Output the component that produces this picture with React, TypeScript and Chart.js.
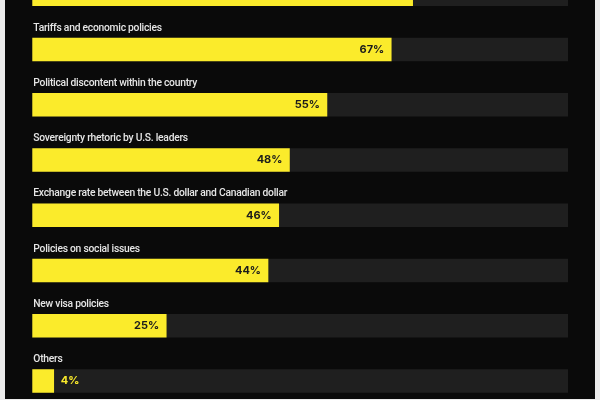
import React, { useEffect, useRef } from "react";
import { Chart, registerables } from "chart.js";

Chart.register(...registerables);

const categories = [
  "Annexation threats by U.S. leaders",
  "Tariffs and economic policies",
  "Political discontent within the country",
  "Sovereignty rhetoric by U.S. leaders",
  "Exchange rate between the U.S. dollar and Canadian dollar",
  "Policies on social issues",
  "New visa policies",
  "Others",
];
const values = [71, 67, 55, 48, 46, 44, 25, 4];
const trackValues = [100, 100, 100, 100, 100, 100, 100, 100];

const YELLOW = "#fbeb2b";
const TRACK = "#1f1f1f";
const PANEL = "#0a0a0a";

const labelPlugin = {
  id: "barLabels",
  afterDatasetsDraw(chart: any) {
    const ctx = chart.ctx;
    const meta = chart.getDatasetMeta(0);
    ctx.save();
    meta.data.forEach((bar: any, i: number) => {
      const top = bar.y - bar.height / 2;
      ctx.font = "500 10.3px 'Roboto', sans-serif";
      (ctx as any).letterSpacing = "-0.25px";
      ctx.fillStyle = "#e6e6e6";
      ctx.textAlign = "left";
      ctx.textBaseline = "middle";
      ctx.fillText(categories[i], chart.chartArea.left + 1, top - 10);
      (ctx as any).letterSpacing = "0px";
      const v = values[i];
      ctx.font = "bold 11px 'Inter', 'Roboto', sans-serif";
      if (v >= 10) {
        ctx.fillStyle = "#1c1c1c";
        ctx.textAlign = "right";
        ctx.fillText(v + "%", bar.x - 7, bar.y);
      } else {
        ctx.fillStyle = YELLOW;
        ctx.textAlign = "left";
        ctx.fillText(v + "%", bar.x + 7, bar.y);
      }
    });
    ctx.restore();
  },
};

export default function App() {
  const ref = useRef<HTMLCanvasElement>(null);
  useEffect(() => {
    if (!ref.current) return;
    const chart = new Chart(ref.current, {
      type: "bar",
      data: {
        labels: categories,
        datasets: [
          {
            data: values,
            backgroundColor: YELLOW,
            barThickness: 23,
            grouped: false,
          } as any,
          {
            data: trackValues,
            backgroundColor: TRACK,
            barThickness: 23,
            grouped: false,
          } as any,
        ],
      },
      options: {
        indexAxis: "y",
        animation: false,
        responsive: false,
        layout: { padding: { left: 27.3, right: 27, top: 26.6, bottom: 11.4 } },
        scales: {
          x: { display: false, min: 0, max: 100 },
          y: { display: false },
        },
        plugins: {
          legend: { display: false },
          tooltip: { enabled: false },
        },
      },
      plugins: [labelPlugin],
    });
    return () => chart.destroy();
  }, []);
  return (
    <div
      style={{
        position: "fixed",
        left: 0,
        top: -60,
        width: 600,
        height: 480,
        background: "#ececec",
      }}
    >
      <div
        style={{
          position: "absolute",
          left: 5,
          top: 0,
          width: 590,
          height: 459,
          background: PANEL,
        }}
      >
        <canvas ref={ref} width={590} height={480} style={{ display: "block" }} />
      </div>
    </div>
  );
}
